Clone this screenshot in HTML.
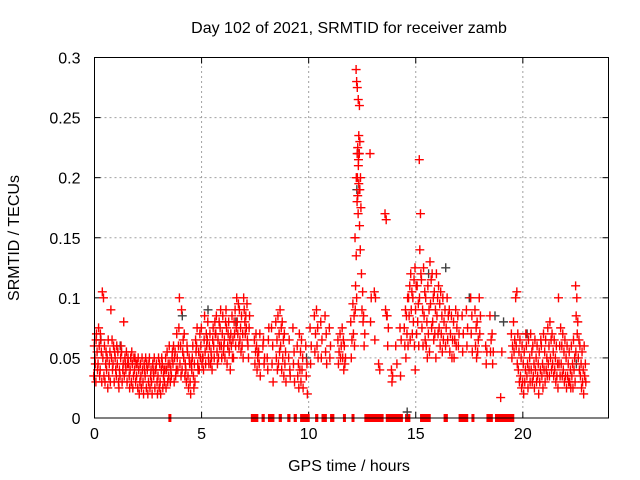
<!DOCTYPE html>
<html><head><meta charset="utf-8">
<style>
html,body{margin:0;padding:0;background:#fff;}
svg{display:block;font-family:"Liberation Sans",sans-serif;}
</style></head>
<body>
<svg id="chart" width="640" height="480" viewBox="0 0 640 480" xmlns="http://www.w3.org/2000/svg">
<text x="349" y="33" font-size="16" text-anchor="middle" fill="#000">Day 102 of 2021, SRMTID for receiver zamb</text>
<text x="349" y="471" font-size="16" text-anchor="middle" fill="#000">GPS time / hours</text>
<text transform="translate(19,238) rotate(-90)" font-size="16" text-anchor="middle" fill="#000">SRMTID / TECUs</text>
<g id="grid"></g>
<g id="axes"></g>
<g id="zero"></g>
<g id="gray"></g>
<g id="red"></g>
<rect x="94.5" y="57.5" width="514" height="360.5" fill="none" stroke="#000" stroke-width="1"/>
</svg>
<script>
const xTicks=[0,5,10,15,20];
const yTicks=[0,0.05,0.1,0.15,0.2,0.25,0.3];
const yTickLabels=["0","0.05","0.1","0.15","0.2","0.25","0.3"];
const redT=[0.0,0.1,0.2,0.3,0.4,0.5,0.6,0.7,0.8,0.9,1.0,1.1,1.2,1.3,1.4,1.5,1.6,1.7,1.8,1.9,2.0,2.1,2.2,2.3,2.4,2.5,2.6,2.7,2.8,2.9,3.0,3.1,3.2,3.3,3.4,3.5,3.6,3.7,3.8,3.9,4.0,4.1,4.2,4.3,4.4,4.5,4.6,4.7,4.8,4.9,5.0,5.1,5.2,5.3,5.4,5.5,5.6,5.7,5.8,5.9,6.0,6.1,6.2,6.3,6.4,6.5,6.6,6.7,6.8,6.9,7.0,7.1,7.2,7.5,7.6,7.7,7.9,8.1,8.3,8.5,8.6,8.7,8.8,8.9,9.1,9.3,9.5,9.6,9.7,9.9,10.1,10.3,10.4,10.6,10.8,11.0,11.4,11.5,11.6,11.7,12.0,12.1,12.2,12.25,12.3,12.35,12.4,12.5,12.6,12.9,13.1,13.3,13.6,13.7,13.9,14.1,14.3,14.5,14.6,14.7,14.8,14.9,15.0,15.1,15.2,15.3,15.4,15.5,15.6,15.7,15.8,15.9,16.0,16.1,16.2,16.3,16.4,16.5,16.6,16.7,16.8,16.9,17.0,17.2,17.4,17.6,17.8,17.9,18.0,18.3,18.5,18.6,19.0,19.5,19.6,19.7,19.8,19.9,20.0,20.1,20.2,20.3,20.4,20.5,20.6,20.7,20.8,20.9,21.0,21.1,21.2,21.3,21.4,21.5,21.6,21.7,21.8,21.9,22.0,22.1,22.2,22.3,22.4,22.5,22.6,22.7,22.8,22.9];
const redV=[
[.035,.05,.06,.045],[.03,.055,.07,.04,.065],[.045,.06,.075,.035],[.04,.055,.065,.03,.07],[.105,.1,.05,.035],[.06,.045,.03,.055],[.04,.025,.05,.065],[.035,.055,.045,.03],[.09,.065,.05,.04],[.045,.03,.06,.055],
[.05,.035,.04,.06],[.045,.03,.055,.025],[.04,.05,.035,.06],[.055,.04,.03,.045],[.08,.05,.035,.045],[.04,.03,.055,.045],[.05,.035,.045,.025],[.04,.03,.05,.055],[.045,.035,.025,.05],[.04,.03,.05,.045],
[.035,.025,.045,.05],[.04,.03,.02,.045],[.035,.05,.025,.04],[.03,.045,.02,.04],[.035,.025,.05,.045],[.04,.03,.02,.045],[.05,.035,.025,.04],[.03,.045,.02,.04],[.035,.025,.05,.04],[.04,.03,.045,.02],
[.035,.025,.05,.045],[.03,.04,.02,.05],[.045,.035,.025,.04],[.03,.05,.04,.025],[.04,.03,.055,.045],[.035,.045,.06,.03],[.04,.05,.035,.055],[.045,.03,.06,.05],[.055,.04,.035,.07],[.05,.06,.04,.075],
[.1,.06,.045,.035],[.09,.055,.04,.065],[.05,.035,.07,.045],[.04,.06,.03,.055],[.035,.05,.025,.045],[.03,.045,.02,.04],[.05,.035,.06,.025],[.045,.065,.03,.055],[.06,.045,.075,.04],[.055,.07,.04,.05],
[.06,.045,.075,.05],[.05,.065,.04,.085],[.055,.07,.045,.06],[.065,.05,.08,.045],[.06,.045,.07,.055],[.05,.065,.04,.075],[.06,.08,.05,.07],[.07,.055,.085,.045],[.065,.08,.05,.06],[.075,.06,.09,.05],
[.07,.055,.085,.06],[.065,.08,.05,.09],[.075,.06,.045,.07],[.08,.065,.055,.04],[.07,.085,.06,.05],[.065,.08,.05,.07],[.09,.075,.06,.1],[.08,.095,.07,.06],[.09,.075,.065,.055],[.085,.07,.06,.05],
[.1,.08,.09,.07],[.085,.095,.075,.065],[.06,.075,.05,.085],[.065,.055,.045,.07],[.06,.05,.04,.055],[.055,.07,.045,.035],[.06,.045,.065,.05],[.05,.065,.04,.075],[.075,.06,.045,.03],[.08,.065,.05,.04],
[.085,.07,.045,.055],[.09,.075,.06,.04],[.08,.065,.05,.035],[.07,.055,.045,.03],[.05,.04,.065,.035],[.075,.055,.045,.03],[.06,.045,.035,.025],[.07,.055,.04,.03],[.065,.05,.04,.025],[.06,.045,.035,.02],
[.075,.06,.045],[.085,.07,.055],[.09,.075,.06,.05],[.08,.065,.05],[.085,.07,.055,.045],[.075,.06,.05],[.065,.055,.045],[.07,.06,.05],[.075,.065,.05,.04],[.06,.05,.045],
[.08,.065,.05],[.095,.085,.07,.06],[.15,.135,.11,.1,.09],[.29,.275,.28,.185,.2,.18],[.22,.21,.225,.195,.2,.17],[.265,.26,.235,.23,.215,.19],[.22,.2,.19,.175,.16,.14],[.12,.105,.09,.08],[.085,.07,.06],[.22,.1,.08],
[.105,.1,.065],[.045,.04],[.17,.165,.09,.085],[.085,.075,.06],[.04,.035,.03],[.06,.045],[.075,.065,.035],[.075,.09,.06,.05],[.085,.1,.07,.06],[.1,.11,.085,.065],[.12,.105,.09,.07],[.1,.115,.08,.06],[.125,.11,.09,.07,.04],
[.11,.095,.08,.06],[.215,.17,.14,.12,.1],[.115,.09,.075,.06],[.125,.105,.085,.065],[.1,.08,.06,.05],[.11,.09,.07,.055],[.13,.115,.095,.075],[.12,.1,.08,.065],[.105,.09,.07,.05],[.12,.1,.085,.07],
[.11,.095,.075,.06],[.105,.085,.07,.055],[.1,.08,.065],[.09,.075,.06],[.1,.085,.065],[.09,.07,.055],[.085,.065,.05],[.08,.065,.05],[.09,.075,.06],[.085,.07,.06],
[.085,.07,.055],[.09,.075,.06],[.1,.085,.07,.055],[.09,.075,.06,.05],[.08,.065,.055],[.1,.085,.07],[.06,.055,.045],[.085,.065,.055],[.07,.055,.045],[.017,.055],
[.07,.06,.05],[.08,.065,.055],[.1,.105,.06,.045],[.07,.055,.04,.03],[.065,.05,.035,.025],[.06,.045,.03,.02],[.055,.04,.03,.07],[.06,.045,.035,.025],[.065,.05,.04,.03],[.07,.055,.04,.03],
[.06,.045,.035,.025],[.065,.05,.04,.03],[.06,.045,.035,.02],[.055,.04,.03,.065],[.06,.045,.035,.025],[.07,.055,.04,.03],[.065,.05,.04,.035],[.075,.06,.045,.035],[.08,.065,.05,.04],[.07,.055,.045,.035],
[.065,.05,.04,.03],[.06,.045,.035,.025],[.1,.06,.045,.035],[.075,.06,.045,.035],[.07,.055,.04,.03],[.065,.05,.035,.025],[.06,.045,.035,.03],[.055,.04,.03,.025],[.06,.045,.035,.025],[.065,.05,.04,.03],
[.11,.1,.085,.07,.055],[.08,.065,.05,.04],[.06,.045,.035,.025],[.055,.04,.03,.02],[.06,.045,.035,.03],[.055,.04,.03,.025],[.05,.035,.03,.02],[.045,.035,.025,.05],[.05,.04,.03,.02],[.055,.045,.035,.025]
];
const grayT=[0.3,1.2,4.1,5.3,6.6,9.9,12.25,12.35,14.6,15.6,16.4,17.5,18.7,19.1,20.2,22.5];
const grayV=[.065,.06,.085,.09,.08,.05,.19,.22,.005,.12,.125,.1,.085,.08,.07,.045];
const zeroStart=[3.45,7.3,7.8,8.1,8.6,9.0,9.3,9.6,10.3,10.6,11.0,11.6,12.0,12.6,13.6,14.5,15.2,16.3,17.0,17.6,18.3,18.7];
const zeroEnd=[3.55,7.65,7.95,8.4,8.75,9.15,9.45,10.05,10.45,10.85,11.2,11.7,12.05,13.5,14.4,14.75,15.7,16.5,17.45,17.7,18.6,19.6];

const X0=94.5,X1=608.5,Y0=418,Y1=57.5;
function xs(h){return X0+(h/24)*(X1-X0);}
function ys(v){return Y0-(v/0.3)*(Y0-Y1);}
const NS="http://www.w3.org/2000/svg";
function mk(tag,attrs,parent){const e=document.createElementNS(NS,tag);for(const k in attrs)e.setAttribute(k,attrs[k]);parent.appendChild(e);return e;}
const grid=document.getElementById('grid'),axes=document.getElementById('axes');
yTicks.forEach((v,i)=>{
  const y=ys(v);
  if(i>0&&i<yTicks.length-1){const g=mk('line',{x1:X0,x2:X1,y1:y,y2:y,stroke:'#a0a0a0','stroke-dasharray':'2,3'},grid);
  
  }
  const t=mk('text',{x:X0-14,y:y+6,'font-size':16,'text-anchor':'end',fill:'#000'},axes);
  
  
  t.textContent=yTickLabels[i];
  mk('line',{x1:X0,x2:X0+6,y1:y,y2:y,stroke:'#000'},axes);
  mk('line',{x1:X1,x2:X1-6,y1:y,y2:y,stroke:'#000'},axes);
});
xTicks.forEach((h,i)=>{
  const x=xs(h);
  if(i>0){const g=mk('line',{x1:x,x2:x,y1:Y0,y2:Y1,stroke:'#a0a0a0','stroke-dasharray':'2,3'},grid);
  
  }
  const t=mk('text',{x:x,y:Y0+21,'font-size':16,'text-anchor':'middle',fill:'#000'},axes);
  
  
  t.textContent=String(h);
  mk('line',{x1:x,x2:x,y1:Y0,y2:Y0-6,stroke:'#000'},axes);
  mk('line',{x1:x,x2:x,y1:Y1,y2:Y1+6,stroke:'#000'},axes);
});
function plus(parent,x,y,color,name){
  const p=mk('path',{d:`M${x-4.5},${y}h9M${x},${y-4.5}v9`,stroke:color,'stroke-width':1.4,fill:'none'},parent);
  
  
}
const zero=document.getElementById('zero');
zeroStart.forEach((s,i)=>{
  const r=mk('rect',{x:xs(s),y:Y0-4,width:Math.max(3,xs(zeroEnd[i])-xs(s)),height:8,fill:'#ff0000'},zero);
  
  
});
const gray=document.getElementById('gray');
grayT.forEach((t,i)=>plus(gray,xs(t),ys(grayV[i]),'#404040','gray-point'));
const red=document.getElementById('red');
const offs=[-0.035,0.02,-0.01,0.04,-0.025,0.01];
redT.forEach((t,i)=>{
  redV[i].forEach((v,j)=>plus(red,xs(t+offs[j%offs.length]),ys(v),'#ff0000','red-point'));
});
</script>
</body></html>
